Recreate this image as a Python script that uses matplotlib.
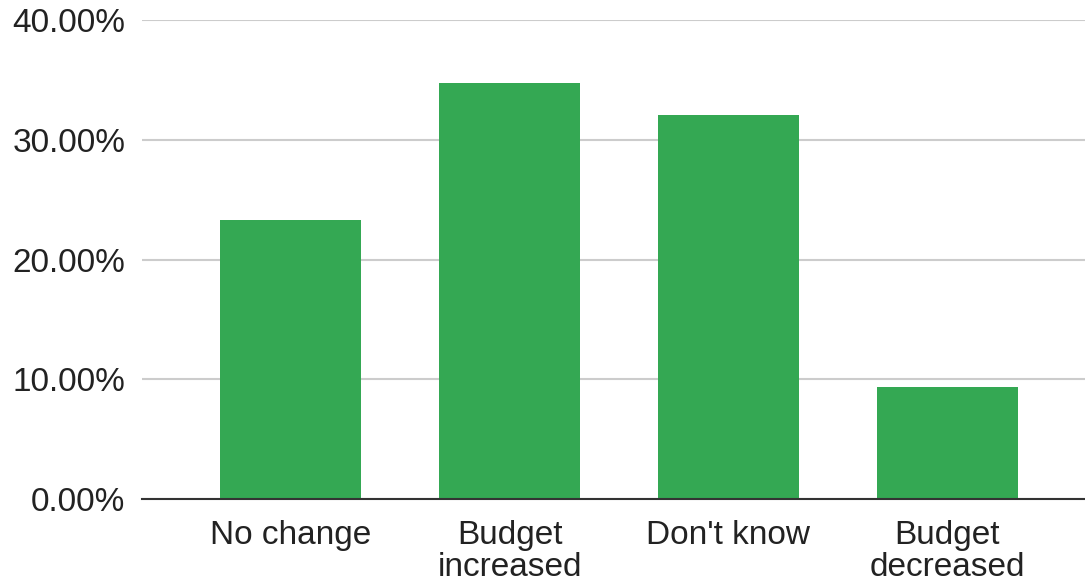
import matplotlib.pyplot as plt
from matplotlib.ticker import FuncFormatter

plt.rcParams['font.family'] = ['Liberation Sans', 'DejaVu Sans']

categorias = ["No change", "Budget\nincreased", "Don't know", "Budget\ndecreased"]
valores = [23.3, 34.7, 32.1, 9.35]
ticks_y = [0, 10, 20, 30, 40]

fig = plt.figure(figsize=(10.85, 5.82), dpi=100)
ax = fig.add_axes([142 / 1085, 83 / 582, 943 / 1085, 479 / 582])

x = range(len(categorias))
ax.bar(x, valores, width=0.645, color='#34A853', zorder=3)

ax.set_xlim(-0.68, 3.63)
ax.set_ylim(0, 40)
ax.set_yticks(ticks_y)
ax.yaxis.set_major_formatter(FuncFormatter(lambda v, p: f'{v:.2f}%'))
ax.set_xticks(list(x))
ax.set_xticklabels(categorias, linespacing=1.05)

ax.grid(axis='y', color='#cccccc', linewidth=1.5, zorder=0)
for lado in ['top', 'right', 'left']:
    ax.spines[lado].set_visible(False)
ax.spines['bottom'].set_color('#333333')
ax.spines['bottom'].set_linewidth(1.5)
ax.spines['bottom'].set_zorder(4)

ax.tick_params(axis='both', length=0, labelsize=24, colors='#222222')
ax.tick_params(axis='y', pad=12)
ax.tick_params(axis='x', pad=15)

fig.savefig('out.png', dpi=100)
